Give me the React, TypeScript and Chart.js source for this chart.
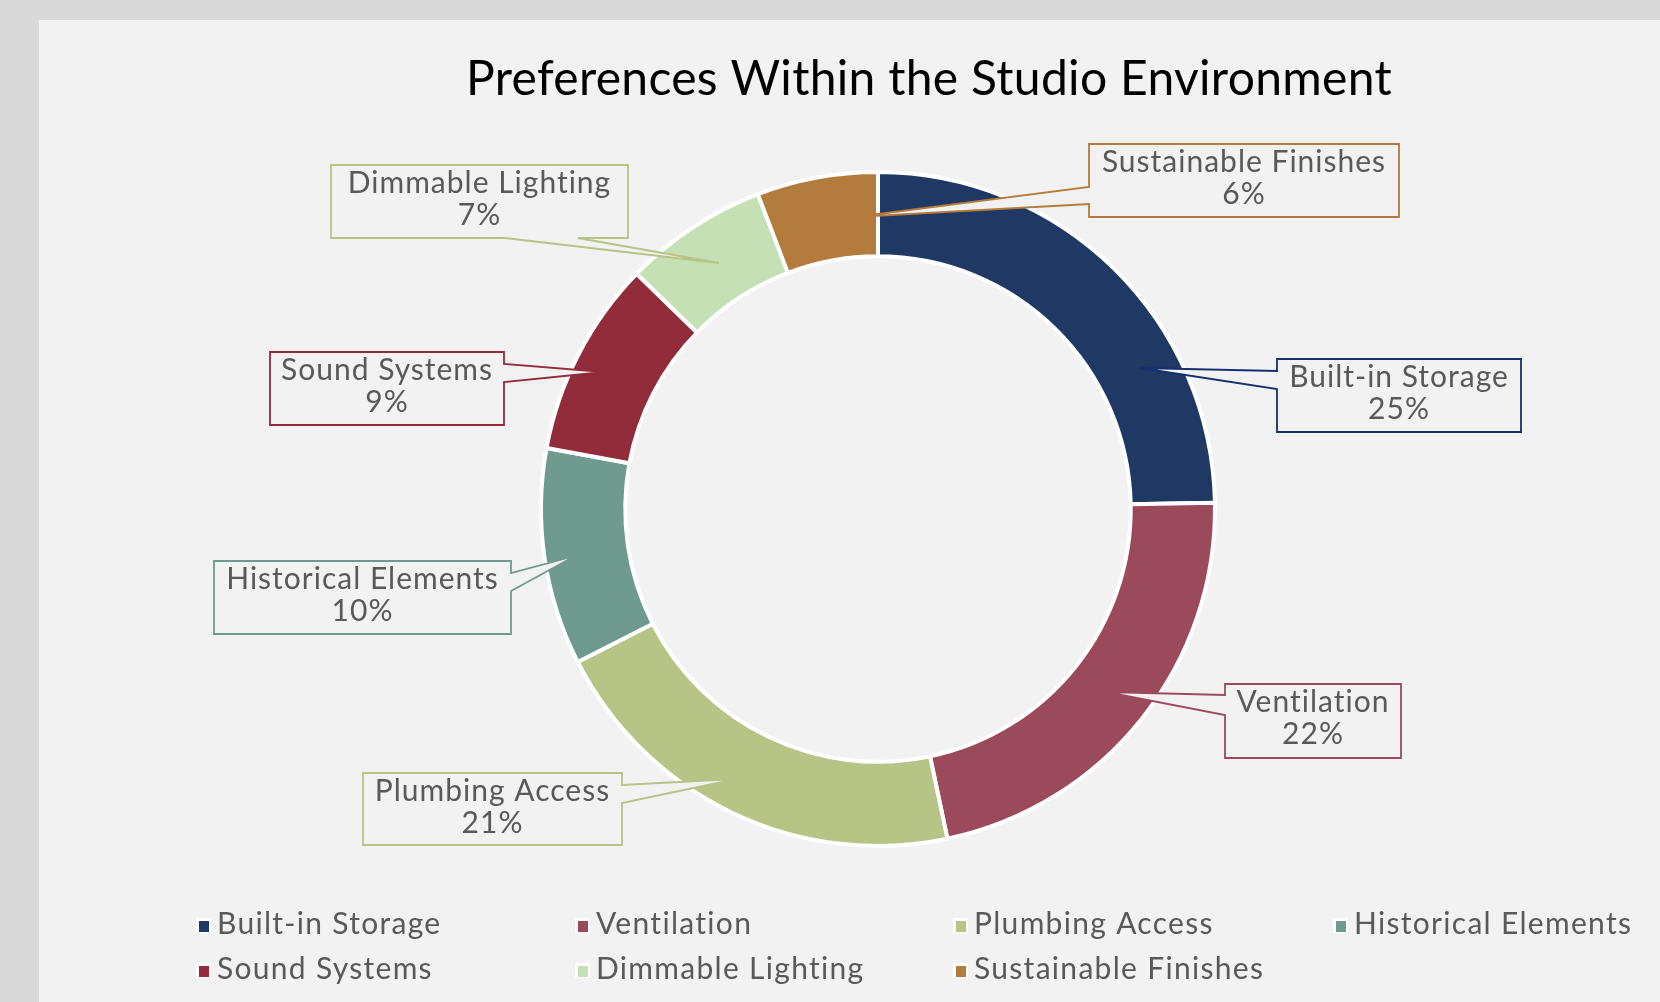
import React, { useEffect, useRef } from "react";
import { Chart, registerables } from "chart.js";

Chart.register(...registerables);

// ---- data ----
const categories = [
  "Built-in Storage",
  "Ventilation",
  "Plumbing Access",
  "Historical Elements",
  "Sound Systems",
  "Dimmable Lighting",
  "Sustainable Finishes",
];
const shares = [24.7, 22.0, 20.8, 10.4, 9.4, 6.9, 5.8];
const percentLabels = ["25%", "22%", "21%", "10%", "9%", "7%", "6%"];
const chartTitle = "Preferences Within the Studio Environment";

// ---- styles ----
const sliceColors = ["#1f3864", "#9b4a5c", "#b6c486", "#6e9a90", "#922b3a", "#c5e0b4", "#b37b3c"];
const calloutColors = ["#14306e", "#9b4a5c", "#b6c486", "#6e9a90", "#922b3a", "#b6c486", "#b37b3c"];
const PAGE_BG = "#d9d9d9";
const PANEL_BG = "#f2f2f2";
const TEXT = "#595959";
const FONT = "Lato, 'Open Sans', sans-serif";

// callout layout, relative to the doughnut centre (px):
// box offset x, y, width, height, pointer side, pointer base start/end along side, tip offset x, y
type Callout = { bx: number; by: number; w: number; h: number; side: "left" | "right" | "bottom"; b1: number; b2: number; tx: number; ty: number };
const callouts: Callout[] = [
  { bx: 399, by: -150, w: 244, h: 73, side: "left", b1: 12, b2: 30, tx: 262, ty: -141 },
  { bx: 347, by: 175, w: 176, h: 74, side: "left", b1: 11, b2: 31, tx: 228, ty: 183 },
  { bx: -515, by: 264, w: 259, h: 72, side: "right", b1: 12, b2: 30, tx: -142, ty: 270 },
  { bx: -664, by: 52, w: 297, h: 73, side: "right", b1: 12, b2: 30, tx: -303, ty: 47 },
  { bx: -608, by: -157, w: 234, h: 73, side: "right", b1: 12, b2: 30, tx: -274, ty: -137 },
  { bx: -547, by: -344, w: 297, h: 73, side: "bottom", b1: 174, b2: 247, tx: -159, ty: -246 },
  { bx: 211, by: -365, w: 310, h: 73, side: "left", b1: 43, b2: 60, tx: -23, ty: -292 },
];

const backgroundPlugin = {
  id: "panelBg",
  beforeDraw(chart: any) {
    const { ctx, width, height } = chart;
    ctx.save();
    ctx.fillStyle = PAGE_BG;
    ctx.fillRect(0, 0, width, height);
    ctx.fillStyle = PANEL_BG;
    ctx.fillRect(39, 20, width - 39, height - 20);
    ctx.restore();
  },
};

const calloutPlugin = {
  id: "callouts",
  afterDatasetsDraw(chart: any) {
    const { ctx } = chart;
    const meta = chart.getDatasetMeta(0);
    meta.data.forEach((arc: any, i: number) => {
      const c = callouts[i];
      const cx = arc.x;
      const cy = arc.y;
      const x = cx + c.bx;
      const y = cy + c.by;
      const w = c.w;
      const h = c.h;
      const tx = cx + c.tx;
      const ty = cy + c.ty;
      ctx.save();
      ctx.beginPath();
      if (c.side === "left") {
        ctx.moveTo(x, y);
        ctx.lineTo(x + w, y);
        ctx.lineTo(x + w, y + h);
        ctx.lineTo(x, y + h);
        ctx.lineTo(x, y + c.b2);
        ctx.lineTo(tx, ty);
        ctx.lineTo(x, y + c.b1);
        ctx.closePath();
      } else if (c.side === "right") {
        ctx.moveTo(x, y);
        ctx.lineTo(x + w, y);
        ctx.lineTo(x + w, y + c.b1);
        ctx.lineTo(tx, ty);
        ctx.lineTo(x + w, y + c.b2);
        ctx.lineTo(x + w, y + h);
        ctx.lineTo(x, y + h);
        ctx.closePath();
      } else {
        ctx.moveTo(x, y);
        ctx.lineTo(x + w, y);
        ctx.lineTo(x + w, y + h);
        ctx.lineTo(x + c.b2, y + h);
        ctx.lineTo(tx, ty);
        ctx.lineTo(x + c.b1, y + h);
        ctx.lineTo(x, y + h);
        ctx.closePath();
      }
      ctx.fillStyle = PANEL_BG;
      ctx.fill();
      ctx.lineWidth = 1.8;
      ctx.lineJoin = "miter";
      ctx.strokeStyle = calloutColors[i];
      ctx.stroke();

      ctx.fillStyle = TEXT;
      ctx.font = `30px ${FONT}`;
      (ctx as any).letterSpacing = "1px";
      ctx.textAlign = "center";
      ctx.textBaseline = "alphabetic";
      ctx.fillText(categories[i], x + w / 2, y + 28);
      ctx.fillText(percentLabels[i], x + w / 2, y + 60);
      ctx.restore();
    });
  },
};

const titleLegendPlugin = {
  id: "titleLegend",
  afterDraw(chart: any) {
    const { ctx } = chart;
    ctx.save();
    // title
    ctx.fillStyle = "#000000";
    ctx.font = `48px ${FONT}`;
    (ctx as any).letterSpacing = "0.3px";
    ctx.textAlign = "center";
    ctx.textBaseline = "alphabetic";
    ctx.fillText(chartTitle, 929, 95);

    // legend in a 4-column grid
    const colX = [196, 575, 953, 1333];
    const rowY = [934, 979];
    ctx.font = `30px ${FONT}`;
    (ctx as any).letterSpacing = "1.3px";
    ctx.textAlign = "left";
    categories.forEach((name, i) => {
      const col = i % 4;
      const row = Math.floor(i / 4);
      const x = colX[col];
      const base = rowY[row];
      ctx.fillStyle = "#ffffff";
      ctx.fillRect(x, base - 16, 15, 15);
      ctx.fillStyle = sliceColors[i];
      ctx.fillRect(x + 3, base - 13, 10, 11);
      ctx.fillStyle = TEXT;
      ctx.fillText(name, x + 21, base);
    });
    ctx.restore();
  },
};

export default function App() {
  const canvasRef = useRef<HTMLCanvasElement | null>(null);

  useEffect(() => {
    const canvas = canvasRef.current;
    if (!canvas) return;
    const chart = new Chart(canvas, {
      type: "doughnut",
      data: {
        labels: categories,
        datasets: [
          {
            data: shares,
            backgroundColor: sliceColors,
            borderColor: "#ffffff",
            borderWidth: 4,
          },
        ],
      },
      options: {
        responsive: false,
        animation: false,
        devicePixelRatio: 1,
        cutout: "75%",
        layout: { padding: { left: 539, right: 443, top: 170, bottom: 154 } },
        plugins: {
          legend: { display: false },
          title: { display: false },
          tooltip: { enabled: false },
        },
      },
      plugins: [backgroundPlugin, calloutPlugin, titleLegendPlugin],
    });
    return () => chart.destroy();
  }, []);

  return (
    <div style={{ position: "fixed", left: 0, top: 0, width: 1660, height: 1002 }}>
      <canvas ref={canvasRef} width={1660} height={1002} style={{ display: "block" }} />
    </div>
  );
}
